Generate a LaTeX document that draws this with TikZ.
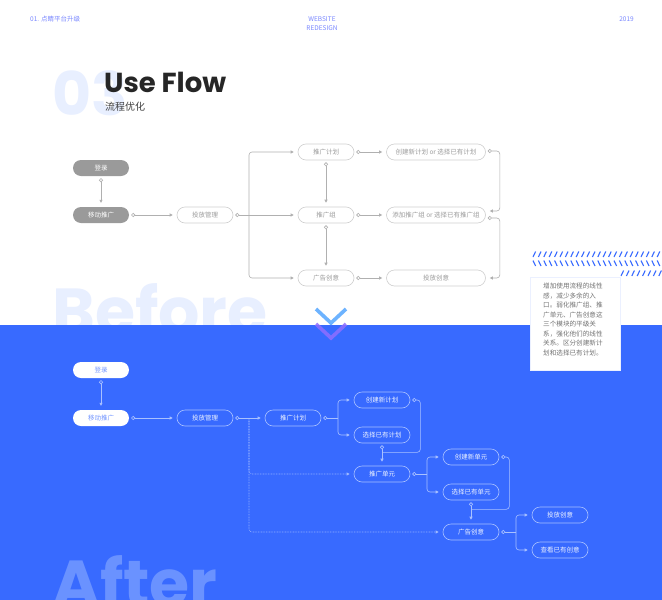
\documentclass[tikz,border=0pt]{standalone}
\usepackage{fontspec}
\setmainfont{Noto Sans CJK SC}
\newfontfamily\poppins{Poppins}
\usetikzlibrary{arrows.meta,calc}

\definecolor{flowblue}{HTML}{386AFF}
\definecolor{headblue}{HTML}{7A88FF}
\definecolor{ghostblue}{HTML}{E8EFFF}
\definecolor{afterghost}{HTML}{6A92FF}
\definecolor{bfill}{HTML}{9A9A9A}
\definecolor{bbord}{HTML}{CFCFCF}
\definecolor{bline}{HTML}{B0B0B0}
\definecolor{btext}{HTML}{9C9C9C}
\definecolor{aline}{HTML}{A9C1FF}
\definecolor{atext}{HTML}{EEF3FF}
\definecolor{alogin}{HTML}{7396FF}
\definecolor{chevlight}{HTML}{6DB3FF}
\definecolor{chevpurple}{HTML}{8F6EFF}

\tikzset{
  pill/.style={rounded corners=8pt, minimum width=56pt, minimum height=16pt,
    inner sep=0pt, font=\fontsize{6.5}{7}\selectfont},
  widepill/.style={pill, minimum width=99pt},
  bbox/.style={pill, draw=bbord, line width=0.6pt, text=btext, fill=white},
  bfilled/.style={pill, fill=bfill, text=white},
  abox/.style={pill, draw=aline, line width=0.6pt, text=atext},
  afilled/.style={pill, fill=white, text=alogin},
  bwire/.style={draw=bline, line width=0.6pt, rounded corners=3pt},
  awire/.style={draw=aline, line width=0.6pt, rounded corners=3pt},
  oout/.style={{Circle[open,length=4pt]}-},
  oin/.style={-{Triangle[length=3pt,width=3pt]}, shorten >=4pt},
  oboth/.style={{Circle[open,length=4pt]}-{Triangle[length=3pt,width=3pt]}, shorten >=4pt},
  hatch/.style={draw=flowblue, line width=1.1pt},
  chev/.style={line width=3.6pt, line join=miter},
  head/.style={text=headblue, font=\fontsize{6.5}{9}\selectfont, inner sep=0pt}
}

\begin{document}
\begin{tikzpicture}[x=1pt, y=-1pt]
    \useasboundingbox (0,0) rectangle (662,600);
    \fill[white] (0,0) rectangle (662,600);

    % 1. Intestazione
    \node[head, anchor=west] (hd-left) at (30,19) {01. 点睛平台升级};
    \node[head, align=center] (hd-mid) at (322,24) {WEBSITE\\REDESIGN};
    \node[head, anchor=east] (hd-right) at (634,19) {2019};

    % 2. Titolo
    \node[anchor=base west, inner sep=0pt, text=ghostblue,
          font=\poppins\bfseries\fontsize{60}{60}\selectfont] (num) at (52,115) {03};
    \node[anchor=base west, inner sep=0pt, text=black!85,
          font=\poppins\bfseries\fontsize{27.5}{27.5}\selectfont] (title) at (104,92) {Use Flow};
    \node[anchor=west, inner sep=0pt, text=black!75,
          font=\fontsize{10}{10}\selectfont] (subtitle) at (105,107) {流程优化};

    % 3. Scritta "Before" (tagliata dal blocco blu)
    \node[anchor=base west, inner sep=0pt, text=ghostblue,
          font=\poppins\bfseries\fontsize{65}{65}\selectfont] (before) at (52,334) {Before};

    % 4. Flusso "Before"
    \node[bfilled] (b-login) at (101,168) {登录};
    \node[bfilled] (b-mobile) at (101,215) {移动推广};
    \node[bbox] (b-manage) at (205,215) {投放管理};
    \node[bbox] (b-plan) at (326,152) {推广计划};
    \node[bbox] (b-group) at (326,215) {推广组};
    \node[bbox] (b-creative) at (326,278) {广告创意};
    \node[bbox, widepill] (b-planopt) at (436,152) {创建新计划 or 选择已有计划};
    \node[bbox, widepill] (b-groupopt) at (436,215) {添加推广组 or 选择已有推广组};
    \node[bbox, widepill] (b-deliver) at (436,278) {投放创意};
    \coordinate (b-fork) at (249,215);

    \draw[bwire, oboth] ([yshift=-2pt]b-login.south) -- (b-mobile.north);
    \draw[bwire, oboth] ([xshift=2pt]b-mobile.east) -- (b-manage.west);
    \draw[bwire, oout] ([xshift=2pt]b-manage.east) -- (b-fork);
    \draw[bwire, oin] (b-fork) |- (b-plan.west);
    \draw[bwire, oin] (b-fork) -- (b-group.west);
    \draw[bwire, oin] (b-fork) |- (b-creative.west);
    \draw[bwire, oboth] ([yshift=-2pt]b-plan.south) -- (b-group.north);
    \draw[bwire, oboth] ([yshift=-2pt]b-group.south) -- (b-creative.north);
    \draw[bwire, oboth] ([xshift=2pt]b-plan.east) -- (b-planopt.west);
    \draw[bwire, oboth] ([xshift=2pt]b-group.east) -- (b-groupopt.west);
    \draw[bwire, oboth] ([xshift=2pt]b-creative.east) -- (b-deliver.west);
    \draw[bwire, oboth] ([xshift=2pt,yshift=1pt]b-planopt.east) -- ++(12,0)
        |- ([yshift=4pt]b-groupopt.east);
    \draw[bwire, oboth] ([xshift=2pt,yshift=-3pt]b-groupopt.east) -- ++(12,0)
        |- (b-deliver.east);

    % 5. Tratteggi blu a destra
    \foreach \x in {533,538.4,...,662}
        \draw[hatch] (\x,257) -- ++(2.6,-5.5);
    \foreach \x in {533,538.4,...,662}
        \draw[hatch] (\x,260.5) -- ++(2.6,5.5);
    \foreach \x in {621,626.4,...,662}
        \draw[hatch] (\x,276) -- ++(2.6,-5.5);

    % 6. Blocco blu "After"
    \fill[flowblue] (0,325) rectangle (662,600);
    \node[anchor=base west, inner sep=0pt, text=afterghost,
          font=\poppins\bfseries\fontsize{65}{65}\selectfont] (after) at (52,606) {After};

    % 7. Frecce a chevron
    \draw[chev, chevlight] (316,309) -- (331,323) -- (346,309);
    \draw[chev, chevpurple, opacity=0.85] (316,324) -- (331,338) -- (346,324);

    % 8. Riquadro di nota
    \filldraw[fill=white, draw=white!90!flowblue, line width=0.5pt] (530,277) rectangle (620,370);
    \node[anchor=north west, inner sep=0pt, text=black!55, align=left,
          font=\fontsize{6.6}{9.5}\selectfont] (note) at (543,283)
        {增加使用流程的线性\\感，减少多余的入\\口。弱化推广组、推\\广单元、广告创意这\\三个模块的平级关\\系，强化他们的线性\\关系。区分创建新计\\划和选择已有计划。};

    % 9. Flusso "After"
    \node[afilled] (a-login) at (101,370) {登录};
    \node[afilled] (a-mobile) at (101,418) {移动推广};
    \node[abox] (a-manage) at (205,418) {投放管理};
    \node[abox] (a-plan) at (293,418) {推广计划};
    \node[abox] (a-newplan) at (382,400) {创建新计划};
    \node[abox] (a-oldplan) at (382,435) {选择已有计划};
    \node[abox] (a-unit) at (382,474) {推广单元};
    \node[abox] (a-newunit) at (471,457) {创建新单元};
    \node[abox] (a-oldunit) at (471,492) {选择已有单元};
    \node[abox] (a-creative) at (471,532) {广告创意};
    \node[abox] (a-deliver) at (560,515) {投放创意};
    \node[abox] (a-view) at (560,550) {查看已有创意};
    \coordinate (a-fork) at (249,418);
    \coordinate (a-fork1) at (338,418);
    \coordinate (a-fork2) at (427,474);
    \coordinate (a-fork3) at (516,532);
    \coordinate (a-join1) at ($(a-oldplan.south)+(0,9)$);
    \coordinate (a-join2) at ($(a-oldunit.south)+(0,9)$);

    \draw[awire, oboth] ([yshift=-2pt]a-login.south) -- (a-mobile.north);
    \draw[awire, oboth] ([xshift=2pt]a-mobile.east) -- (a-manage.west);
    \draw[awire, oboth] ([xshift=2pt]a-manage.east) -- (a-plan.west);
    \draw[awire, oin, dash pattern=on 0.8pt off 0.8pt, opacity=0.8] (a-fork) |- (a-unit.west);
    \draw[awire, oin, dash pattern=on 0.8pt off 0.8pt, opacity=0.8] (a-fork) |- (a-creative.west);
    % ramo piano
    \draw[awire, oout] ([xshift=2pt]a-plan.east) -- (a-fork1);
    \draw[awire, oin] (a-fork1) |- (a-newplan.west);
    \draw[awire, oin] (a-fork1) |- (a-oldplan.west);
    \draw[awire, oout] ([xshift=2pt]a-newplan.east) -- ++(8,0) |- (a-join1);
    \draw[awire, oboth] ([yshift=-2pt]a-oldplan.south) -- (a-unit.north);
    % ramo unita
    \draw[awire, oout] ([xshift=2pt]a-unit.east) -- (a-fork2);
    \draw[awire, oin] (a-fork2) |- (a-newunit.west);
    \draw[awire, oin] (a-fork2) |- (a-oldunit.west);
    \draw[awire, oout] ([xshift=2pt]a-newunit.east) -- ++(8,0) |- (a-join2);
    \draw[awire, oboth] ([yshift=-2pt]a-oldunit.south) -- (a-creative.north);
    % ramo creativita
    \draw[awire, oout] ([xshift=2pt]a-creative.east) -- (a-fork3);
    \draw[awire, oin] (a-fork3) |- (a-deliver.west);
    \draw[awire, oin] (a-fork3) |- (a-view.west);
\end{tikzpicture}
\end{document}
